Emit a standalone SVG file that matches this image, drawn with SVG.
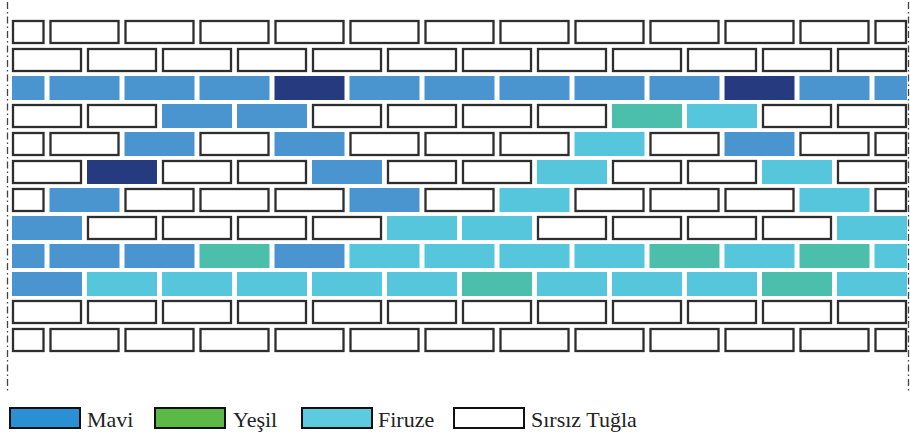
<svg xmlns="http://www.w3.org/2000/svg" width="910" height="435" viewBox="0 0 910 435">
<style>
.w{fill:#ffffff;stroke:#2e2e2e;stroke-width:2.3}
.b{fill:#4a95d0}
.n{fill:#263a7f}
.g{fill:#4bbfab}
.t{fill:#55c6dc}
.axis{stroke:#444444;stroke-width:1.3;stroke-dasharray:7 3 1.5 3;fill:none}
.lg{stroke:#111111;stroke-width:2}
.lt{font-family:"Liberation Serif","Times New Roman",serif;font-size:22px;fill:#222222}
</style>
<g id="axes">
<line class="axis" x1="7.5" y1="2" x2="7.5" y2="392"/>
<line class="axis" x1="908.5" y1="2" x2="908.5" y2="392"/>
</g>
<g id="wall">
<g id="row-1" transform="translate(0,20)">
<rect class="w" x="13" y="1" width="30.5" height="22"/>
<rect class="w" x="50.5" y="1" width="68" height="22"/>
<rect class="w" x="125.5" y="1" width="68" height="22"/>
<rect class="w" x="200.5" y="1" width="68" height="22"/>
<rect class="w" x="275.5" y="1" width="68" height="22"/>
<rect class="w" x="350.5" y="1" width="68" height="22"/>
<rect class="w" x="425.5" y="1" width="68" height="22"/>
<rect class="w" x="500.5" y="1" width="68" height="22"/>
<rect class="w" x="575.5" y="1" width="68" height="22"/>
<rect class="w" x="650.5" y="1" width="68" height="22"/>
<rect class="w" x="725.5" y="1" width="68" height="22"/>
<rect class="w" x="800.5" y="1" width="68" height="22"/>
<rect class="w" x="875.5" y="1" width="30.5" height="22"/>
</g>
<g id="row-2" transform="translate(0,48)">
<rect class="w" x="13" y="1" width="68" height="22"/>
<rect class="w" x="88" y="1" width="68" height="22"/>
<rect class="w" x="163" y="1" width="68" height="22"/>
<rect class="w" x="238" y="1" width="68" height="22"/>
<rect class="w" x="313" y="1" width="68" height="22"/>
<rect class="w" x="388" y="1" width="68" height="22"/>
<rect class="w" x="463" y="1" width="68" height="22"/>
<rect class="w" x="538" y="1" width="68" height="22"/>
<rect class="w" x="613" y="1" width="68" height="22"/>
<rect class="w" x="688" y="1" width="68" height="22"/>
<rect class="w" x="763" y="1" width="68" height="22"/>
<rect class="w" x="838" y="1" width="68" height="22"/>
</g>
<g id="row-3" transform="translate(0,76)">
<rect class="b" x="12" y="0" width="32.5" height="24"/>
<rect class="b" x="49.5" y="0" width="70" height="24"/>
<rect class="b" x="124.5" y="0" width="70" height="24"/>
<rect class="b" x="199.5" y="0" width="70" height="24"/>
<rect class="n" x="274.5" y="0" width="70" height="24"/>
<rect class="b" x="349.5" y="0" width="70" height="24"/>
<rect class="b" x="424.5" y="0" width="70" height="24"/>
<rect class="b" x="499.5" y="0" width="70" height="24"/>
<rect class="b" x="574.5" y="0" width="70" height="24"/>
<rect class="b" x="649.5" y="0" width="70" height="24"/>
<rect class="n" x="724.5" y="0" width="70" height="24"/>
<rect class="b" x="799.5" y="0" width="70" height="24"/>
<rect class="b" x="874.5" y="0" width="32.5" height="24"/>
</g>
<g id="row-4" transform="translate(0,104)">
<rect class="w" x="13" y="1" width="68" height="22"/>
<rect class="w" x="88" y="1" width="68" height="22"/>
<rect class="b" x="162" y="0" width="70" height="24"/>
<rect class="b" x="237" y="0" width="70" height="24"/>
<rect class="w" x="313" y="1" width="68" height="22"/>
<rect class="w" x="388" y="1" width="68" height="22"/>
<rect class="w" x="463" y="1" width="68" height="22"/>
<rect class="w" x="538" y="1" width="68" height="22"/>
<rect class="g" x="612" y="0" width="70" height="24"/>
<rect class="t" x="687" y="0" width="70" height="24"/>
<rect class="w" x="763" y="1" width="68" height="22"/>
<rect class="w" x="838" y="1" width="68" height="22"/>
</g>
<g id="row-5" transform="translate(0,132)">
<rect class="w" x="13" y="1" width="30.5" height="22"/>
<rect class="w" x="50.5" y="1" width="68" height="22"/>
<rect class="b" x="124.5" y="0" width="70" height="24"/>
<rect class="w" x="200.5" y="1" width="68" height="22"/>
<rect class="b" x="274.5" y="0" width="70" height="24"/>
<rect class="w" x="350.5" y="1" width="68" height="22"/>
<rect class="w" x="425.5" y="1" width="68" height="22"/>
<rect class="w" x="500.5" y="1" width="68" height="22"/>
<rect class="t" x="574.5" y="0" width="70" height="24"/>
<rect class="w" x="650.5" y="1" width="68" height="22"/>
<rect class="b" x="724.5" y="0" width="70" height="24"/>
<rect class="w" x="800.5" y="1" width="68" height="22"/>
<rect class="w" x="875.5" y="1" width="30.5" height="22"/>
</g>
<g id="row-6" transform="translate(0,160)">
<rect class="w" x="13" y="1" width="68" height="22"/>
<rect class="n" x="87" y="0" width="70" height="24"/>
<rect class="w" x="163" y="1" width="68" height="22"/>
<rect class="w" x="238" y="1" width="68" height="22"/>
<rect class="b" x="312" y="0" width="70" height="24"/>
<rect class="w" x="388" y="1" width="68" height="22"/>
<rect class="w" x="463" y="1" width="68" height="22"/>
<rect class="t" x="537" y="0" width="70" height="24"/>
<rect class="w" x="613" y="1" width="68" height="22"/>
<rect class="w" x="688" y="1" width="68" height="22"/>
<rect class="t" x="762" y="0" width="70" height="24"/>
<rect class="w" x="838" y="1" width="68" height="22"/>
</g>
<g id="row-7" transform="translate(0,188)">
<rect class="w" x="13" y="1" width="30.5" height="22"/>
<rect class="b" x="49.5" y="0" width="70" height="24"/>
<rect class="w" x="125.5" y="1" width="68" height="22"/>
<rect class="w" x="200.5" y="1" width="68" height="22"/>
<rect class="w" x="275.5" y="1" width="68" height="22"/>
<rect class="b" x="349.5" y="0" width="70" height="24"/>
<rect class="w" x="425.5" y="1" width="68" height="22"/>
<rect class="t" x="499.5" y="0" width="70" height="24"/>
<rect class="w" x="575.5" y="1" width="68" height="22"/>
<rect class="w" x="650.5" y="1" width="68" height="22"/>
<rect class="w" x="725.5" y="1" width="68" height="22"/>
<rect class="t" x="799.5" y="0" width="70" height="24"/>
<rect class="w" x="875.5" y="1" width="30.5" height="22"/>
</g>
<g id="row-8" transform="translate(0,216)">
<rect class="b" x="12" y="0" width="70" height="24"/>
<rect class="w" x="88" y="1" width="68" height="22"/>
<rect class="w" x="163" y="1" width="68" height="22"/>
<rect class="w" x="238" y="1" width="68" height="22"/>
<rect class="w" x="313" y="1" width="68" height="22"/>
<rect class="t" x="387" y="0" width="70" height="24"/>
<rect class="t" x="462" y="0" width="70" height="24"/>
<rect class="w" x="538" y="1" width="68" height="22"/>
<rect class="w" x="613" y="1" width="68" height="22"/>
<rect class="w" x="688" y="1" width="68" height="22"/>
<rect class="w" x="763" y="1" width="68" height="22"/>
<rect class="t" x="837" y="0" width="70" height="24"/>
</g>
<g id="row-9" transform="translate(0,244)">
<rect class="b" x="12" y="0" width="32.5" height="24"/>
<rect class="b" x="49.5" y="0" width="70" height="24"/>
<rect class="b" x="124.5" y="0" width="70" height="24"/>
<rect class="g" x="199.5" y="0" width="70" height="24"/>
<rect class="b" x="274.5" y="0" width="70" height="24"/>
<rect class="t" x="349.5" y="0" width="70" height="24"/>
<rect class="t" x="424.5" y="0" width="70" height="24"/>
<rect class="t" x="499.5" y="0" width="70" height="24"/>
<rect class="t" x="574.5" y="0" width="70" height="24"/>
<rect class="g" x="649.5" y="0" width="70" height="24"/>
<rect class="t" x="724.5" y="0" width="70" height="24"/>
<rect class="g" x="799.5" y="0" width="70" height="24"/>
<rect class="t" x="874.5" y="0" width="32.5" height="24"/>
</g>
<g id="row-10" transform="translate(0,272)">
<rect class="b" x="12" y="0" width="70" height="24"/>
<rect class="t" x="87" y="0" width="70" height="24"/>
<rect class="t" x="162" y="0" width="70" height="24"/>
<rect class="t" x="237" y="0" width="70" height="24"/>
<rect class="t" x="312" y="0" width="70" height="24"/>
<rect class="t" x="387" y="0" width="70" height="24"/>
<rect class="g" x="462" y="0" width="70" height="24"/>
<rect class="t" x="537" y="0" width="70" height="24"/>
<rect class="t" x="612" y="0" width="70" height="24"/>
<rect class="t" x="687" y="0" width="70" height="24"/>
<rect class="g" x="762" y="0" width="70" height="24"/>
<rect class="t" x="837" y="0" width="70" height="24"/>
</g>
<g id="row-11" transform="translate(0,300)">
<rect class="w" x="13" y="1" width="68" height="22"/>
<rect class="w" x="88" y="1" width="68" height="22"/>
<rect class="w" x="163" y="1" width="68" height="22"/>
<rect class="w" x="238" y="1" width="68" height="22"/>
<rect class="w" x="313" y="1" width="68" height="22"/>
<rect class="w" x="388" y="1" width="68" height="22"/>
<rect class="w" x="463" y="1" width="68" height="22"/>
<rect class="w" x="538" y="1" width="68" height="22"/>
<rect class="w" x="613" y="1" width="68" height="22"/>
<rect class="w" x="688" y="1" width="68" height="22"/>
<rect class="w" x="763" y="1" width="68" height="22"/>
<rect class="w" x="838" y="1" width="68" height="22"/>
</g>
<g id="row-12" transform="translate(0,328)">
<rect class="w" x="13" y="1" width="30.5" height="22"/>
<rect class="w" x="50.5" y="1" width="68" height="22"/>
<rect class="w" x="125.5" y="1" width="68" height="22"/>
<rect class="w" x="200.5" y="1" width="68" height="22"/>
<rect class="w" x="275.5" y="1" width="68" height="22"/>
<rect class="w" x="350.5" y="1" width="68" height="22"/>
<rect class="w" x="425.5" y="1" width="68" height="22"/>
<rect class="w" x="500.5" y="1" width="68" height="22"/>
<rect class="w" x="575.5" y="1" width="68" height="22"/>
<rect class="w" x="650.5" y="1" width="68" height="22"/>
<rect class="w" x="725.5" y="1" width="68" height="22"/>
<rect class="w" x="800.5" y="1" width="68" height="22"/>
<rect class="w" x="875.5" y="1" width="30.5" height="22"/>
</g>
</g>
<g id="legend">
<g id="legend-mavi">
<rect class="lg" x="10" y="408" width="70" height="20" fill="#2b8fd3"/>
<text class="lt" x="87" y="427">Mavi</text>
</g>
<g id="legend-yesil">
<rect class="lg" x="155" y="408" width="70" height="20" fill="#5cb947"/>
<text class="lt" x="233" y="427">Yeşil</text>
</g>
<g id="legend-firuze">
<rect class="lg" x="302" y="408" width="70" height="20" fill="#5ccbe0"/>
<text class="lt" x="378" y="427">Firuze</text>
</g>
<g id="legend-sirsiz">
<rect class="lg" x="454" y="408" width="70" height="20" fill="#ffffff"/>
<text class="lt" x="531" y="427">Sırsız Tuğla</text>
</g>
</g>
</svg>
